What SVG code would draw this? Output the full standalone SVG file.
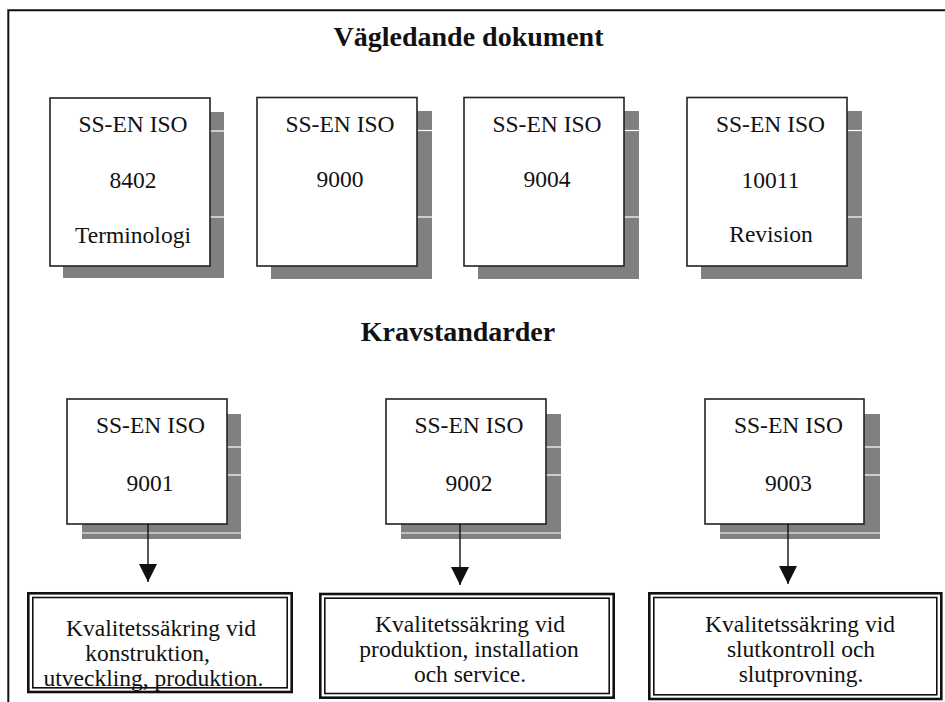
<svg xmlns="http://www.w3.org/2000/svg" width="945" height="702" viewBox="0 0 945 702">
  <style>
    .title { font-family: "Liberation Serif", "Times New Roman", serif; font-size: 28px; font-weight: bold; fill: #111; text-anchor: middle; }
    .lbl { font-family: "Liberation Serif", "Times New Roman", serif; font-size: 23.5px; fill: #111; text-anchor: middle; }
    .box { fill: #fff; stroke: #222; stroke-width: 1.6; }
    .shadow { fill: #808080; }
    .gap { stroke: #fff; stroke-width: 1.2; }
    .outer { fill: #fff; stroke: #111; stroke-width: 2.6; }
    .inner { fill: none; stroke: #111; stroke-width: 1.6; }
    .conn { stroke: #111; stroke-width: 1.4; fill: none; }
    .frame { stroke: #111; stroke-width: 2; fill: none; }
  </style>
  <defs>
    <marker id="arrow" markerWidth="18" markerHeight="18" refX="18" refY="9" orient="auto" markerUnits="userSpaceOnUse">
      <path d="M0,0 L18,9 L0,18 Z" fill="#111"/>
    </marker>
  </defs>
  <rect width="945" height="702" fill="#fff"/>
  <path class="frame" d="M8.3,702 V10.3 H945"/>

  <text class="title" x="468.5" y="46">Vägledande dokument</text>
  <text class="title" x="458" y="341">Kravstandarder</text>

  <g id="doc-8402">
    <rect class="shadow" x="63" y="112" width="161" height="166"/>
    <line class="gap" x1="210" y1="131" x2="224" y2="131"/>
    <line class="gap" x1="210" y1="217" x2="224" y2="217"/>
    <rect class="box" x="50" y="98" width="160" height="168"/>
    <text class="lbl" x="133" y="132">SS-EN ISO</text>
    <text class="lbl" x="133" y="188">8402</text>
    <text class="lbl" x="133" y="243">Terminologi</text>
  </g>

  <g id="doc-9000">
    <rect class="shadow" x="271" y="111" width="161" height="168"/>
    <line class="gap" x1="417" y1="130.5" x2="432" y2="130.5"/>
    <line class="gap" x1="417" y1="217" x2="432" y2="217"/>
    <rect class="box" x="257" y="97.5" width="160" height="168.5"/>
    <text class="lbl" x="340" y="132">SS-EN ISO</text>
    <text class="lbl" x="340" y="187">9000</text>
  </g>

  <g id="doc-9004">
    <rect class="shadow" x="478" y="111" width="161" height="168"/>
    <line class="gap" x1="624" y1="130.5" x2="639" y2="130.5"/>
    <line class="gap" x1="624" y1="217" x2="639" y2="217"/>
    <rect class="box" x="464" y="97.5" width="160" height="168.5"/>
    <text class="lbl" x="547" y="132">SS-EN ISO</text>
    <text class="lbl" x="547" y="187">9004</text>
  </g>

  <g id="doc-10011">
    <rect class="shadow" x="701" y="111" width="161" height="168"/>
    <line class="gap" x1="847" y1="130.5" x2="862" y2="130.5"/>
    <line class="gap" x1="847" y1="217" x2="862" y2="217"/>
    <rect class="box" x="687" y="97.5" width="160" height="168.5"/>
    <text class="lbl" x="770.5" y="132">SS-EN ISO</text>
    <text class="lbl" x="770.5" y="188">10011</text>
    <text class="lbl" x="771" y="242">Revision</text>
  </g>

  <g id="req-9001">
    <rect class="shadow" x="82" y="414" width="159" height="125"/>
    <line class="gap" x1="227" y1="447" x2="241" y2="447"/>
    <line class="gap" x1="227" y1="475" x2="241" y2="475"/>
    <line class="gap" x1="82" y1="533" x2="241" y2="533"/>
    <rect class="box" x="67" y="399" width="160" height="125"/>
    <text class="lbl" x="150.5" y="433">SS-EN ISO</text>
    <text class="lbl" x="150" y="491">9001</text>
  </g>

  <g id="req-9002">
    <rect class="shadow" x="401" y="414" width="160" height="125"/>
    <line class="gap" x1="546" y1="447" x2="561" y2="447"/>
    <line class="gap" x1="546" y1="475" x2="561" y2="475"/>
    <line class="gap" x1="401" y1="533" x2="561" y2="533"/>
    <rect class="box" x="386" y="399" width="160" height="125"/>
    <text class="lbl" x="469" y="433">SS-EN ISO</text>
    <text class="lbl" x="469" y="491">9002</text>
  </g>

  <g id="req-9003">
    <rect class="shadow" x="720" y="414" width="160" height="125"/>
    <line class="gap" x1="864" y1="447" x2="880" y2="447"/>
    <line class="gap" x1="864" y1="475" x2="880" y2="475"/>
    <line class="gap" x1="720" y1="533" x2="880" y2="533"/>
    <rect class="box" x="705" y="399" width="159" height="125"/>
    <text class="lbl" x="788.5" y="433">SS-EN ISO</text>
    <text class="lbl" x="788.5" y="491">9003</text>
  </g>

  <g id="qa-konstruktion">
    <rect class="outer" x="28.3" y="593.3" width="263.4" height="98.7"/>
    <rect class="inner" x="32.8" y="597.5" width="254.4" height="90.3"/>
    <text class="lbl" x="161" y="636">Kvalitetssäkring vid</text>
    <text class="lbl" x="147.5" y="661">konstruktion,</text>
    <text class="lbl" x="153.5" y="686">utveckling, produktion.</text>
  </g>

  <g id="qa-produktion">
    <rect class="outer" x="320.3" y="594" width="293.4" height="103.7"/>
    <rect class="inner" x="324.8" y="598.2" width="284.4" height="95.3"/>
    <text class="lbl" x="470" y="632">Kvalitetssäkring vid</text>
    <text class="lbl" x="469" y="657">produktion, installation</text>
    <text class="lbl" x="470" y="682">och service.</text>
  </g>

  <g id="qa-slutkontroll">
    <rect class="outer" x="649.3" y="593.3" width="292" height="105.7"/>
    <rect class="inner" x="653.8" y="597.5" width="283" height="97.3"/>
    <text class="lbl" x="800" y="632">Kvalitetssäkring vid</text>
    <text class="lbl" x="801" y="657">slutkontroll och</text>
    <text class="lbl" x="801" y="682">slutprovning.</text>
  </g>

  <g id="connectors">
    <line class="conn" x1="148" y1="524" x2="148" y2="582" marker-end="url(#arrow)"/>
    <line class="conn" x1="460" y1="524" x2="460" y2="585" marker-end="url(#arrow)"/>
    <line class="conn" x1="788" y1="524" x2="788" y2="584" marker-end="url(#arrow)"/>
  </g>
</svg>
